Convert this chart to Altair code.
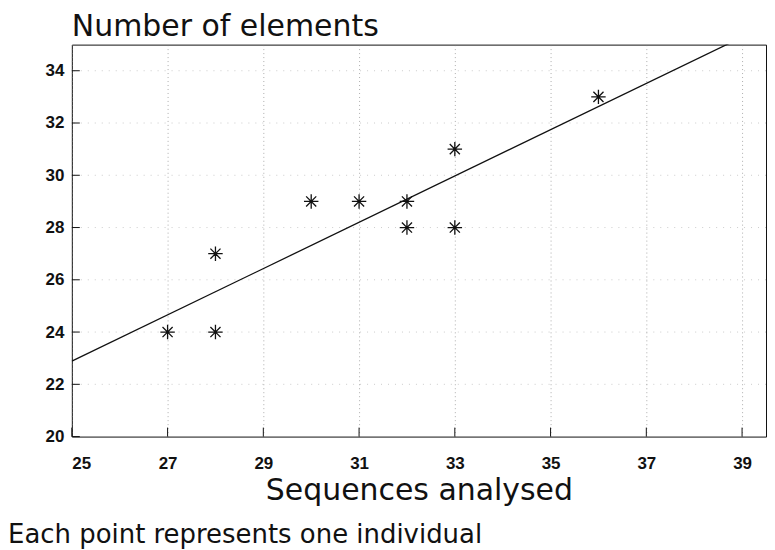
import altair as alt
import pandas as pd

seq = [27, 28, 28, 30, 31, 32, 32, 33, 33, 36]
elems = [24, 24, 27, 29, 29, 29, 28, 31, 28, 33]
x_ticks = [25, 27, 29, 31, 33, 35, 37, 39]
y_ticks = [20, 22, 24, 26, 28, 30, 32, 34]

df = pd.DataFrame({"seq": seq, "elems": elems})
W, H = 696, 393
LFONT = "Liberation Sans"
TFONT = "DejaVu Sans"

xs = alt.Scale(domain=[25, 39.5], nice=False, zero=False)
ys = alt.Scale(domain=[20, 35], nice=False, zero=False)

xaxis = alt.Axis(values=x_ticks, title="Sequences analysed", grid=True,
                 gridDash=[1, 3], gridColor="#777", gridOpacity=0.6,
                 tickSize=0, domain=False, labelPadding=19,
                 labelFontSize=17, labelFontWeight="bold", labelFont=LFONT,
                 labelColor="#111", titleFont=TFONT, titleFontSize=30,
                 titleFontWeight="normal", titleColor="#111", titlePadding=4)
yaxis = alt.Axis(values=y_ticks, title=None, grid=False, tickSize=0,
                 domain=False, labelPadding=8, labelFontSize=17,
                 labelFontWeight="bold", labelFont=LFONT, labelColor="#111")

hgrid = alt.Chart(pd.DataFrame({"y": y_ticks[1:]})).mark_rule(
    color="#999", strokeDash=[1, 6], opacity=0.5).encode(
    y=alt.Y("y:Q", scale=ys, axis=yaxis))

yt = alt.Chart(pd.DataFrame({"y": y_ticks})).mark_rule(color="#111").encode(
    y=alt.Y("y:Q", scale=ys), x=alt.value(0), x2=alt.value(8))
xt = alt.Chart(pd.DataFrame({"x": x_ticks})).mark_rule(color="#111").encode(
    x=alt.X("x:Q", scale=xs), y=alt.value(H), y2=alt.value(H - 9))

pts = alt.Chart(df).mark_point(
    shape="M-1,0L1,0M0,-1L0,1M-0.7,-0.7L0.7,0.7M-0.7,0.7L0.7,-0.7",
    size=210, color="#111", strokeWidth=1.3, filled=False, opacity=1).encode(
    x=alt.X("seq:Q", scale=xs, axis=xaxis),
    y=alt.Y("elems:Q", scale=ys))

reg = alt.Chart(df).transform_regression(
    "seq", "elems", extent=[25, 39.5]).mark_line(
    color="#111", strokeWidth=1.3, clip=True).encode(
    x=alt.X("seq:Q", scale=xs), y=alt.Y("elems:Q", scale=ys))

caption = alt.Chart(pd.DataFrame({"t": ["Each point represents one individual"]})).mark_text(
    align="left", baseline="alphabetic", font=TFONT, fontSize=26, color="#111").encode(
    text="t:N", x=alt.value(-64), y=alt.value(H + 107))

chart = alt.layer(hgrid, yt, xt, reg, pts, caption).properties(
    width=W, height=H,
    padding={"left": 0, "top": 3, "right": 0, "bottom": 0},
    title=alt.TitleParams("Number of elements", anchor="start", frame="group",
                          font=TFONT, fontSize=30, fontWeight="normal",
                          color="#111", offset=3),
).configure_view(stroke="#111", strokeWidth=1)

chart.save("out.html", embed_options={"renderer": "svg", "actions": False})
